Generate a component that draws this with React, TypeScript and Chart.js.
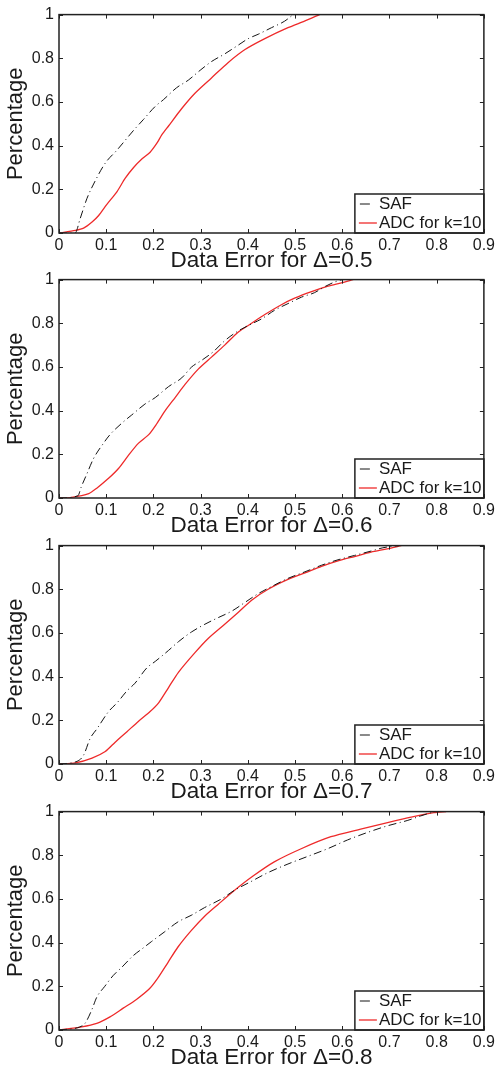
import React, { useEffect, useRef } from "react";
import { Chart, registerables } from "chart.js";

Chart.register(...registerables);

const FONT = '"Liberation Sans", Arial, Helvetica, sans-serif';
const TEXT_COLOR = "#1a1a1a";

const X_TICKS = [0, 0.1, 0.2, 0.3, 0.4, 0.5, 0.6, 0.7, 0.8, 0.9];
const Y_TICKS = [0, 0.2, 0.4, 0.6, 0.8, 1];
const SERIES_LABELS = ["SAF", "ADC for k=10"];
const X_TITLE_PREFIX = "Data Error for Δ=";
const Y_TITLE = "Percentage";
const DELTAS = ["0.5", "0.6", "0.7", "0.8"];

// Δ = 0.5
const SAF_05_X = [0, 0.034, 0.045, 0.059, 0.077, 0.098, 0.123, 0.158, 0.179, 0.204, 0.221, 0.249, 0.274, 0.299, 0.323, 0.351, 0.376, 0.401, 0.422, 0.45, 0.478, 0.496];
const SAF_05_Y = [0, 0, 0.067, 0.157, 0.24, 0.32, 0.38, 0.47, 0.52, 0.58, 0.61, 0.665, 0.70, 0.745, 0.785, 0.82, 0.855, 0.89, 0.91, 0.94, 0.97, 1.0];
const ADC_05_X = [0, 0.035, 0.052, 0.07, 0.084, 0.101, 0.123, 0.14, 0.158, 0.176, 0.193, 0.207, 0.218, 0.232, 0.26, 0.288, 0.323, 0.358, 0.394, 0.436, 0.485, 0.52, 0.552];
const ADC_05_Y = [0, 0.012, 0.022, 0.05, 0.08, 0.13, 0.19, 0.25, 0.30, 0.34, 0.37, 0.41, 0.45, 0.49, 0.57, 0.64, 0.71, 0.78, 0.84, 0.89, 0.94, 0.97, 1.0];

// Δ = 0.6
const SAF_06_X = [0, 0.04, 0.047, 0.059, 0.073, 0.094, 0.108, 0.137, 0.154, 0.182, 0.204, 0.232, 0.26, 0.281, 0.302, 0.327, 0.351, 0.376, 0.401, 0.429, 0.457, 0.485, 0.514, 0.541, 0.565, 0.585, 0.6];
const SAF_06_Y = [0, 0.01, 0.05, 0.11, 0.18, 0.25, 0.29, 0.35, 0.38, 0.43, 0.46, 0.51, 0.55, 0.60, 0.63, 0.67, 0.72, 0.76, 0.79, 0.82, 0.86, 0.89, 0.92, 0.94, 0.97, 0.99, 1.0];
const ADC_06_X = [0, 0.027, 0.063, 0.08, 0.105, 0.126, 0.147, 0.168, 0.19, 0.207, 0.225, 0.246, 0.267, 0.295, 0.323, 0.351, 0.38, 0.408, 0.436, 0.471, 0.499, 0.535, 0.57, 0.598, 0.623];
const ADC_06_Y = [0, 0.003, 0.02, 0.045, 0.09, 0.135, 0.195, 0.25, 0.29, 0.34, 0.40, 0.46, 0.52, 0.59, 0.645, 0.70, 0.76, 0.80, 0.84, 0.885, 0.915, 0.945, 0.97, 0.985, 1.0];

// Δ = 0.7
const SAF_07_X = [0, 0.038, 0.052, 0.066, 0.08, 0.105, 0.123, 0.144, 0.161, 0.186, 0.204, 0.232, 0.253, 0.281, 0.309, 0.337, 0.366, 0.394, 0.422, 0.457, 0.485, 0.521, 0.556, 0.591, 0.626, 0.661, 0.686, 0.72];
const SAF_07_Y = [0, 0.012, 0.04, 0.117, 0.16, 0.24, 0.28, 0.335, 0.37, 0.44, 0.47, 0.52, 0.56, 0.605, 0.64, 0.67, 0.70, 0.74, 0.78, 0.82, 0.85, 0.88, 0.91, 0.935, 0.955, 0.975, 0.99, 1.0];
const ADC_07_X = [0, 0.035, 0.07, 0.098, 0.119, 0.144, 0.168, 0.193, 0.211, 0.232, 0.253, 0.288, 0.316, 0.351, 0.38, 0.408, 0.443, 0.485, 0.521, 0.556, 0.591, 0.626, 0.661, 0.695, 0.725];
const ADC_07_Y = [0, 0.005, 0.027, 0.057, 0.10, 0.148, 0.195, 0.24, 0.28, 0.35, 0.42, 0.51, 0.575, 0.64, 0.695, 0.75, 0.80, 0.845, 0.875, 0.905, 0.93, 0.95, 0.97, 0.985, 1.0];

// Δ = 0.8
const SAF_08_X = [0, 0.044, 0.055, 0.069, 0.08, 0.097, 0.115, 0.132, 0.157, 0.178, 0.196, 0.224, 0.252, 0.28, 0.308, 0.344, 0.372, 0.407, 0.442, 0.485, 0.527, 0.569, 0.611, 0.654, 0.696, 0.739, 0.766, 0.795];
const SAF_08_Y = [0, 0.014, 0.03, 0.09, 0.15, 0.20, 0.25, 0.285, 0.34, 0.375, 0.405, 0.45, 0.495, 0.525, 0.56, 0.60, 0.64, 0.68, 0.72, 0.76, 0.795, 0.83, 0.87, 0.905, 0.935, 0.96, 0.98, 1.0];
const ADC_08_X = [0, 0.048, 0.08, 0.108, 0.136, 0.164, 0.192, 0.21, 0.231, 0.252, 0.28, 0.308, 0.337, 0.372, 0.411, 0.456, 0.513, 0.576, 0.639, 0.696, 0.746, 0.794, 0.82];
const ADC_08_Y = [0, 0.014, 0.03, 0.06, 0.10, 0.14, 0.19, 0.24, 0.31, 0.38, 0.455, 0.52, 0.575, 0.64, 0.705, 0.77, 0.83, 0.885, 0.92, 0.95, 0.975, 0.995, 1.0];

const PANELS = [
  { delta: DELTAS[0], safX: SAF_05_X, safY: SAF_05_Y, adcX: ADC_05_X, adcY: ADC_05_Y },
  { delta: DELTAS[1], safX: SAF_06_X, safY: SAF_06_Y, adcX: ADC_06_X, adcY: ADC_06_Y },
  { delta: DELTAS[2], safX: SAF_07_X, safY: SAF_07_Y, adcX: ADC_07_X, adcY: ADC_07_Y },
  { delta: DELTAS[3], safX: SAF_08_X, safY: SAF_08_Y, adcX: ADC_08_X, adcY: ADC_08_Y },
];

const PANEL_TOPS = [0, 265, 531, 797];
const CANVAS_W = 498;
const CANVAS_H = 272;

const zip = (xs: number[], ys: number[]) => xs.map((x, i) => ({ x, y: ys[i] }));
const fmt = (v: number) => String(Number(Number(v).toFixed(1)));

const framePlugin = {
  id: "matlabFrame",
  afterDatasetsDraw(chart: any) {
    const { ctx, chartArea, scales } = chart;
    const { left, right, top, bottom } = chartArea;
    const xs = scales.x;
    const ys = scales.y;
    ctx.save();
    // inside tick marks on all four sides
    ctx.strokeStyle = "#222";
    ctx.lineWidth = 1;
    const tl = 4;
    ctx.beginPath();
    X_TICKS.forEach((v) => {
      const px = Math.round(xs.getPixelForValue(v)) + 0.5;
      ctx.moveTo(px, bottom);
      ctx.lineTo(px, bottom - tl);
      ctx.moveTo(px, top);
      ctx.lineTo(px, top + tl);
    });
    Y_TICKS.forEach((v) => {
      const py = Math.round(ys.getPixelForValue(v)) + 0.5;
      ctx.moveTo(left, py);
      ctx.lineTo(left + tl, py);
      ctx.moveTo(right, py);
      ctx.lineTo(right - tl, py);
    });
    ctx.stroke();

    // legend box (lower right, inside axes)
    const bw = 129;
    const bh = 39;
    const bx = right - bw;
    const by = bottom - bh;
    ctx.fillStyle = "#fff";
    ctx.fillRect(bx, by, bw, bh);
    ctx.strokeStyle = "#222";
    ctx.lineWidth = 1.5;
    ctx.strokeRect(bx, by, bw, bh);
    const ds = chart.data.datasets;
    const rows = [by + 10, by + 29];
    ctx.font = `17px ${FONT}`;
    ctx.textBaseline = "middle";
    ctx.textAlign = "left";
    ds.forEach((d: any, i: number) => {
      const ry = rows[i];
      ctx.strokeStyle = d.borderColor;
      ctx.lineWidth = d.borderWidth;
      ctx.setLineDash([]);
      ctx.beginPath();
      if (i === 0) {
        ctx.moveTo(bx + 5, ry);
        ctx.lineTo(bx + 15, ry);
      } else {
        ctx.moveTo(bx + 4, ry);
        ctx.lineTo(bx + 22, ry);
      }
      ctx.stroke();
      ctx.fillStyle = TEXT_COLOR;
      ctx.fillText(d.label, bx + 24, ry + 0.5);
    });

    // axes frame
    ctx.strokeStyle = "#222";
    ctx.lineWidth = 1.5;
    ctx.strokeRect(left, top, right - left, bottom - top);
    ctx.restore();
  },
};

function Panel({ panel, top }: { panel: (typeof PANELS)[number]; top: number }) {
  const ref = useRef<HTMLCanvasElement | null>(null);
  useEffect(() => {
    if (!ref.current) return;
    const chart = new Chart(ref.current, {
      type: "line",
      data: {
        datasets: [
          {
            label: SERIES_LABELS[0],
            data: zip(panel.safX, panel.safY),
            borderColor: "#151515",
            borderWidth: 1,
            borderDash: [8, 3.5, 1, 3.5],
            pointRadius: 0,
            cubicInterpolationMode: "monotone",
            fill: false,
          },
          {
            label: SERIES_LABELS[1],
            data: zip(panel.adcX, panel.adcY),
            borderColor: "#ee2a2a",
            borderWidth: 1.3,
            pointRadius: 0,
            tension: 0.25,
            borderJoinStyle: "round",
            fill: false,
          },
        ],
      },
      options: {
        responsive: false,
        animation: false,
        events: [],
        layout: { padding: { left: 0, top: 11, right: 12, bottom: 0 } },
        plugins: { legend: { display: false }, tooltip: { enabled: false } },
        scales: {
          x: {
            type: "linear",
            min: 0,
            max: 0.9,
            grid: { display: false, drawTicks: false },
            border: { display: false },
            ticks: {
              stepSize: 0.1,
              autoSkip: false,
              maxRotation: 0,
              padding: 3,
              color: TEXT_COLOR,
              font: { family: FONT, size: 16 },
              callback: (v: any) => fmt(v),
            },
            title: {
              display: true,
              text: X_TITLE_PREFIX + panel.delta,
              color: TEXT_COLOR,
              font: { family: FONT, size: 22.5, lineHeight: 1 },
              padding: { top: 0, bottom: 0 },
            },
            afterFit: (s: any) => {
              s.height = CANVAS_H - 233;
            },
          },
          y: {
            type: "linear",
            min: 0,
            max: 1,
            grid: { display: false, drawTicks: false },
            border: { display: false },
            ticks: {
              stepSize: 0.2,
              padding: 5,
              color: TEXT_COLOR,
              font: { family: FONT, size: 16 },
              callback: (v: any) => fmt(v),
            },
            title: {
              display: true,
              text: Y_TITLE,
              color: TEXT_COLOR,
              font: { family: FONT, size: 22, lineHeight: 1 },
              padding: { top: 5, bottom: 0 },
            },
            afterFit: (s: any) => {
              s.width = 59;
            },
          },
        },
      },
      plugins: [framePlugin],
    } as any);
    return () => chart.destroy();
  }, [panel]);
  return (
    <canvas
      ref={ref}
      width={CANVAS_W}
      height={CANVAS_H}
      style={{ position: "absolute", left: 0, top, width: CANVAS_W, height: CANVAS_H }}
    />
  );
}

export default function App() {
  return (
    <div
      style={{
        position: "absolute",
        left: 0,
        top: 0,
        width: 498,
        height: 1072,
        background: "#fff",
        overflow: "hidden",
      }}
    >
      {PANELS.map((p, i) => (
        <Panel key={p.delta} panel={p} top={PANEL_TOPS[i]} />
      ))}
    </div>
  );
}
